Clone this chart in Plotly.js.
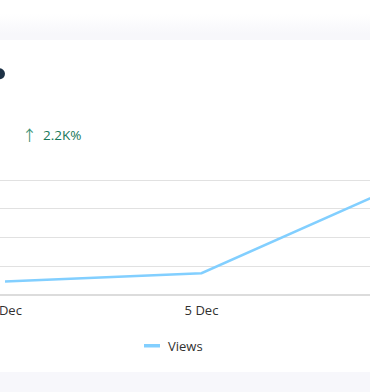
<!DOCTYPE html>
<html><head><meta charset="utf-8">
<script src="https://cdn.plot.ly/plotly-3.0.1.min.js"></script>
<style>
html,body{margin:0;padding:0;width:370px;height:392px;overflow:hidden;}
body{position:relative;background:linear-gradient(to bottom,#ffffff 0px,#ffffff 14px,#f7f7fb 34px,#f7f7fb 100%);}
#card{position:absolute;left:-20px;top:40px;width:410px;height:332px;background:#ffffff;}
#chart{position:absolute;left:-60px;top:0;width:500px;height:392px;}
</style></head><body>
<div id="card"></div><div id="chart"></div>
<script>
// ---- data ----
const dates = ['4 Dec', '5 Dec', '6 Dec'];
const views = [23.5, 38, 190];
const seriesName = 'Views';
const deltaArrow = '↑';
const deltaText = '2.2K%';
const yTicks = [0, 50, 100, 150, 200];

// ---- geometry ----
const DIV_L = -60, W = 500, H = 392;
const ML = 20, MR = 10, MT = 174, MB = 97;
const plotLeft = DIV_L + ML, plotW = W - ML - MR;
const plotBottom = H - MB, plotH = H - MT - MB;
const firstPx = 5, stepPx = 196.5;
const px2paper = x => (x - plotLeft) / plotW;
const py2paper = y => (plotBottom - y) / plotH;
const px2idx = x => (x - firstPx) / stepPx;

const FONT = '"Open Sans", "Noto Sans", sans-serif';
const lineColor = '#82cfff';

const traces = [
  {
    x: dates.map((_, i) => i), y: views,
    mode: 'lines', name: seriesName, showlegend: false,
    line: {color: lineColor, width: 2.5}, hoverinfo: 'skip'
  }
];

const layout = {
  width: W, height: H,
  margin: {l: ML, r: MR, t: MT, b: MB, pad: 0},
  paper_bgcolor: 'rgba(0,0,0,0)', plot_bgcolor: 'rgba(0,0,0,0)',
  font: {family: FONT, size: 13, color: '#323130'},
  showlegend: false,
  xaxis: {
    range: [px2idx(plotLeft), px2idx(plotLeft + plotW)],
    tickmode: 'array', tickvals: dates.map((_, i) => i), ticktext: dates,
    showgrid: false, zeroline: false, showline: false, ticks: '',
    ticklabelstandoff: 6,
    tickfont: {family: FONT, size: 13, color: '#323130'}
  },
  yaxis: {
    range: [0, 211], tickmode: 'array', tickvals: yTicks,
    showticklabels: false, ticks: '',
    gridcolor: '#e1e1e1', gridwidth: 1,
    zeroline: true, zerolinecolor: '#dcdcdc', zerolinewidth: 1.5, showline: false
  },
  shapes: [
    {type: 'circle', xref: 'paper', yref: 'paper',
     x0: px2paper(-6), x1: px2paper(5), y0: py2paper(79.3), y1: py2paper(68.3),
     fillcolor: '#1e3246', line: {width: 0}},
    {type: 'rect', xref: 'paper', yref: 'paper',
     x0: px2paper(144), x1: px2paper(160), y0: py2paper(347.5), y1: py2paper(344),
     fillcolor: lineColor, line: {width: 0}}
  ],
  annotations: [
    {xref: 'paper', yref: 'paper', x: px2paper(29.5), y: py2paper(134.5),
     xanchor: 'center', yanchor: 'middle', showarrow: false,
     text: deltaArrow, font: {family: '"Noto Sans CJK SC", sans-serif', size: 15, color: '#3f9478'}},
    {xref: 'paper', yref: 'paper', x: px2paper(41), y: py2paper(135),
     xanchor: 'left', yanchor: 'middle', showarrow: false,
     text: deltaText, font: {family: FONT, size: 13.5, color: '#17785a'}},
    {xref: 'paper', yref: 'paper', x: px2paper(166), y: py2paper(346),
     xanchor: 'left', yanchor: 'middle', showarrow: false,
     text: seriesName, font: {family: FONT, size: 13, color: '#323130'}}
  ]
};

Plotly.newPlot('chart', traces, layout, {displayModeBar: false, staticPlot: true});
</script>
</body></html>
